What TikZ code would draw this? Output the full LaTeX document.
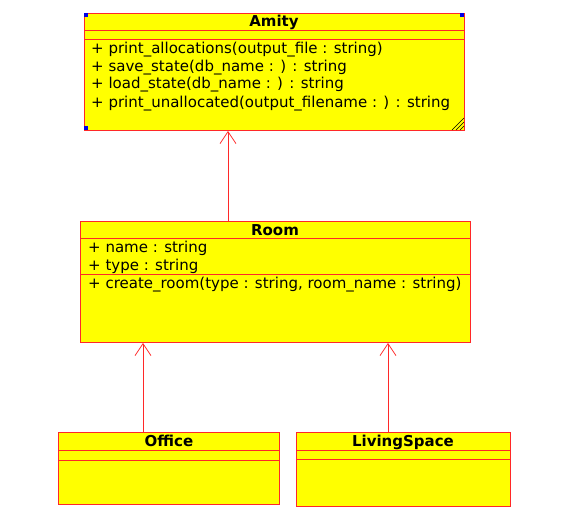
\documentclass[tikz,border=0pt]{standalone}
\usepackage{fontspec}
\setmainfont{DejaVu Sans}
\usetikzlibrary{arrows.meta}
\definecolor{umlred}{RGB}{255,40,40}
\definecolor{umlyel}{RGB}{255,255,0}
\definecolor{handle}{RGB}{0,0,230}
\tikzset{
  classbox/.style={draw=umlred, fill=umlyel, line width=0.9pt, anchor=north west, inner sep=0pt},
  sepline/.style={draw=umlred, line width=0.9pt},
  title/.style={font=\fontsize{15}{18}\selectfont\bfseries, inner sep=0pt, anchor=base},
  member/.style={font=\fontsize{15}{18}\selectfont, anchor=base west, inner sep=0pt},
  inherit/.style={draw=umlred, line width=0.8pt, -{Straight Barb[length=12pt,width=16pt,line width=0.8pt]}},
  grip/.style={fill=handle, minimum size=4pt, inner sep=0pt}
}
\begin{document}
\begin{tikzpicture}[x=1pt,y=-1pt]
\useasboundingbox (0,0) rectangle (571,527);
% Amity
\node[classbox, minimum width=380pt, minimum height=117pt] (amity) at (84,13) {};
\draw[sepline] (84,30) -- (464,30);
\draw[sepline] (84,39) -- (464,39);
\node[title] (amityt) at (274,27) {Amity};
\node[member] (am1) at (91,53.5) {+ print\_allocations(output\_file : string)};
\node[member] (am2) at (91,71.3) {+ save\_state(db\_name : ) : string};
\node[member] (am3) at (91,89) {+ load\_state(db\_name : ) : string};
\node[member] (am4) at (91,107) {+ print\_unallocated(output\_filename : ) : string};
\node[grip] (g1) at (86,15) {};
\node[grip] (g2) at (462,15) {};
\node[grip] (g3) at (86,128) {};
\draw[black, line width=0.5pt] (452,130) -- (464,118) (456,130) -- (464,122) (460,130) -- (464,126);
% Room
\node[classbox, minimum width=390pt, minimum height=121pt] (room) at (80,221) {};
\draw[sepline] (80,238.5) -- (470,238.5);
\draw[sepline] (80,274.5) -- (470,274.5);
\node[title] (roomt) at (275,235) {Room};
\node[member] (rm1) at (88,252.7) {+ name : string};
\node[member] (rm2) at (88,270.8) {+ type : string};
\node[member] (rm3) at (88,288.8) {+ create\_room(type : string, room\_name : string)};
% Office
\node[classbox, minimum width=221pt, minimum height=72pt] (office) at (58,432) {};
\draw[sepline] (58,450) -- (279,450);
\draw[sepline] (58,460) -- (279,460);
\node[title] (officet) at (169,446.7) {Office};
% LivingSpace
\node[classbox, minimum width=214pt, minimum height=74pt] (living) at (296,432) {};
\draw[sepline] (296,450) -- (510,450);
\draw[sepline] (296,459) -- (510,459);
\node[title] (livingt) at (403,446.7) {LivingSpace};
% connectors
\coordinate (c1) at (228,221);
\coordinate (c2) at (143,432);
\coordinate (c3) at (388,432);
\draw[inherit] (c1) -- (c1 |- amity.south);
\draw[inherit] (c2) -- (c2 |- room.south);
\draw[inherit] (c3) -- (c3 |- room.south);
\end{tikzpicture}
\end{document}
